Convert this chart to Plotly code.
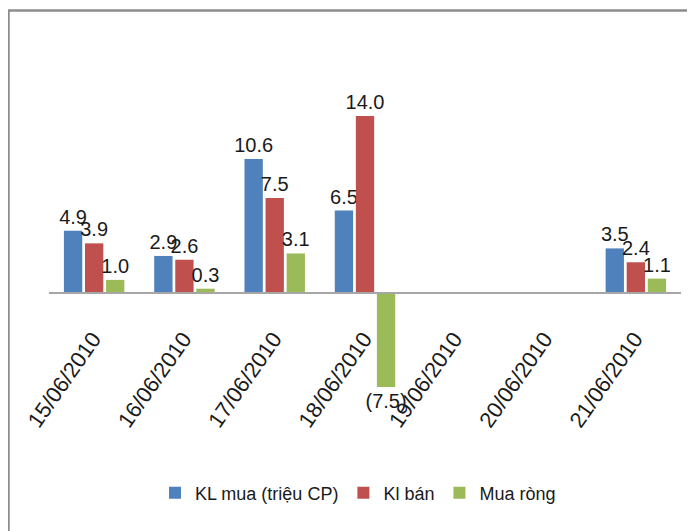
import plotly.graph_objects as go

dates = ["15/06/2010", "16/06/2010", "17/06/2010", "18/06/2010",
         "19/06/2010", "20/06/2010", "21/06/2010"]
kl_mua = [4.9, 2.9, 10.6, 6.5, None, None, 3.5]
kl_ban = [3.9, 2.6, 7.5, 14.0, None, None, 2.4]
mua_rong = [1.0, 0.3, 3.1, -7.5, None, None, 1.1]

series_names = ["KL mua (triệu CP)", "Kl bán", "Mua ròng"]
series_colors = ["#4F81BD", "#C0504D", "#9BBB59"]

# page body has an 8px default margin; work in screen pixels and subtract it
OFF = 8
W, H = 695 - OFF, 531 - OFF
plot_left, plot_right, plot_top, plot_bottom = 49, 681, 60, 400
L = plot_left - OFF
R = W - (plot_right - OFF)
T = plot_top - OFF
B = H - (plot_bottom - OFF)
plot_w = plot_right - plot_left
plot_h = plot_bottom - plot_top
zero_px = 292.5
px_per_unit = 12.6
y_top = (zero_px - plot_top) / px_per_unit
y_bot = -(plot_bottom - zero_px) / px_per_unit


def fmt(v):
    if v is None:
        return ""
    return f"({abs(v):.1f})" if v < 0 else f"{v:.1f}"


FONT = "Liberation Sans, Arial, sans-serif"

fig = go.Figure()
for name, vals, col in zip(series_names, [kl_mua, kl_ban, mua_rong], series_colors):
    fig.add_trace(go.Bar(
        x=dates, y=vals, name=name, marker=dict(color=col, line=dict(width=0)),
        text=[fmt(v) for v in vals], textposition="outside",
        textfont=dict(family=FONT, size=20, color="#1a1a1a"),
        constraintext="none", cliponaxis=False, hoverinfo="skip",
    ))


def px_x(p):
    return (p - plot_left) / plot_w


def px_y(p):
    return (plot_bottom - p) / plot_h


fig.update_layout(
    width=W, height=H,
    margin=dict(l=L, r=R, t=T, b=B, autoexpand=False),
    paper_bgcolor="white", plot_bgcolor="white",
    barmode="group", bargap=0.30, bargroupgap=0.13,
    showlegend=True,
    legend=dict(orientation="h", x=px_x(358), xanchor="center",
                y=px_y(493), yanchor="middle",
                font=dict(family=FONT, size=18, color="#1a1a1a"),
                itemwidth=30, tracegroupgap=0),
    xaxis=dict(type="category", anchor="free", position=px_y(zero_px),
               tickmode="array", tickvals=dates, ticktext=dates,
               showline=True, linecolor="#A6A6A6", linewidth=1.5,
               ticks="", showgrid=False, zeroline=False, automargin=False,
               tickangle=-55, ticklabelstandoff=24, ticklabelshift=-1,
               tickfont=dict(family=FONT, size=22, color="#1a1a1a")),
    yaxis=dict(range=[y_bot, y_top], visible=False, showgrid=False, zeroline=False),
    shapes=[dict(type="path", xref="paper", yref="paper",
                 path=f"M {px_x(8.5)} {px_y(545)} L {px_x(8.5)} {px_y(10.5)} L {px_x(710)} {px_y(10.5)}",
                 line=dict(color="#8C8C8C", width=2.5))],
)

fig.write_html("out.html")
